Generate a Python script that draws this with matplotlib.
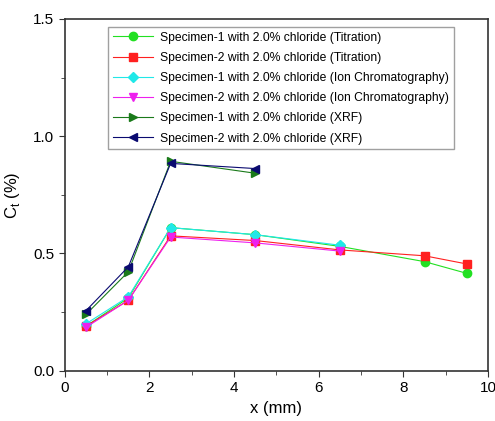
import matplotlib
matplotlib.use("Agg")
import matplotlib.pyplot as plt
from matplotlib.ticker import MultipleLocator

plt.rcParams['font.family'] = ['Liberation Sans', 'DejaVu Sans']
plt.rcParams['mathtext.fontset'] = 'custom'
plt.rcParams['mathtext.rm'] = 'Liberation Sans'

x_full = [0.5, 1.5, 2.5, 4.5, 6.5, 8.5, 9.5]
x_ic = [0.5, 1.5, 2.5, 4.5, 6.5]
x_xrf = [0.5, 1.5, 2.5, 4.5]

tit_s1 = [0.19, 0.31, 0.61, 0.58, 0.53, 0.465, 0.415]
tit_s2 = [0.19, 0.30, 0.575, 0.555, 0.515, 0.49, 0.455]
ic_s1 = [0.20, 0.315, 0.61, 0.58, 0.535]
ic_s2 = [0.185, 0.30, 0.57, 0.545, 0.51]
xrf_s1 = [0.24, 0.422, 0.893, 0.842]
xrf_s2 = [0.256, 0.443, 0.884, 0.862]

labels = [
    "Specimen-1 with 2.0% chloride (Titration)",
    "Specimen-2 with 2.0% chloride (Titration)",
    "Specimen-1 with 2.0% chloride (Ion Chromatography)",
    "Specimen-2 with 2.0% chloride (Ion Chromatography)",
    "Specimen-1 with 2.0% chloride (XRF)",
    "Specimen-2 with 2.0% chloride (XRF)",
]

fig = plt.figure(figsize=(4.95, 4.21), dpi=100)
ax = fig.add_axes([0.131, 0.1195, 0.855, 0.8355])

lw = 0.8
ms = 6
ax.plot(x_full, tit_s1, color="#22e022", marker="o", lw=lw, ms=ms, label=labels[0])
ax.plot(x_full, tit_s2, color="#ff2020", marker="s", lw=lw, ms=ms, label=labels[1])
ax.plot(x_ic, ic_s1, color="#20e8e8", marker="D", lw=lw, ms=ms - 1, label=labels[2])
ax.plot(x_ic, ic_s2, color="#ee20ee", marker="v", lw=lw, ms=ms, label=labels[3])
ax.plot(x_xrf, xrf_s1, color="#1a7a1a", marker=">", lw=lw, ms=ms, label=labels[4])
ax.plot(x_xrf, xrf_s2, color="#0a0a70", marker="<", lw=lw, ms=ms, label=labels[5])

ax.set_xlim(0, 10)
ax.set_ylim(0, 1.5)
ax.xaxis.set_major_locator(MultipleLocator(2))
ax.xaxis.set_minor_locator(MultipleLocator(1))
ax.yaxis.set_major_locator(MultipleLocator(0.5))
ax.yaxis.set_minor_locator(MultipleLocator(0.25))
ax.tick_params(which="both", direction="out", labelsize=11, color="#333333")
ax.tick_params(which="major", length=4)
ax.tick_params(which="minor", length=3)
for s in ax.spines.values():
    s.set_linewidth(1.2)
    s.set_color("#333333")

ax.set_xlabel("x (mm)", fontsize=12)
ax.set_ylabel("C$_\\mathrm{t}$ (%)", fontsize=12, labelpad=8)

leg = ax.legend(loc="upper left", bbox_to_anchor=(0.088, 0.995), fontsize=8.7,
                frameon=True, fancybox=False, edgecolor="#888888",
                handlelength=3.3, labelspacing=0.68, borderpad=0.4,
                handletextpad=0.6)
leg.get_frame().set_linewidth(1.0)

fig.savefig("out.png", dpi=100)
